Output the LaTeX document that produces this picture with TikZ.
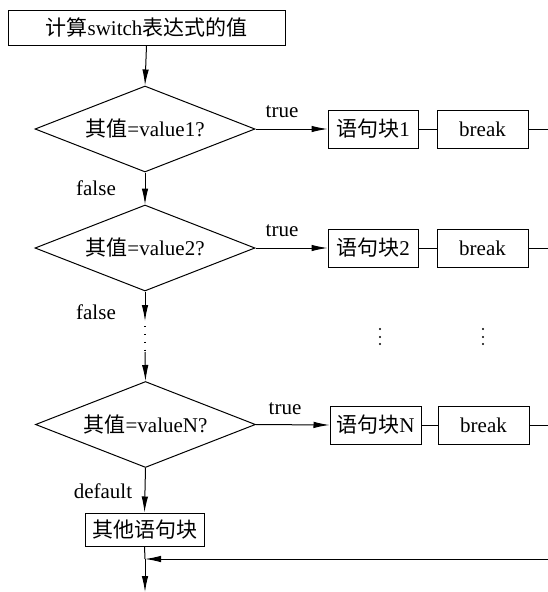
\documentclass[tikz,border=0pt]{standalone}
\usepackage{fontspec}
\setmainfont{Liberation Serif}
\newfontfamily\cjk{Noto Sans CJK SC}
\usetikzlibrary{shapes.geometric,arrows.meta}
\begin{document}
\begin{tikzpicture}[x=1pt,y=-1pt,
  every node/.style={font=\fontsize{21}{24}\selectfont},
  box/.style={draw, line width=1pt, inner sep=0pt, minimum height=38pt},
  dia/.style={draw, line width=1pt, diamond, aspect=2.56, inner sep=0pt, minimum width=220pt, minimum height=86pt},
  lab/.style={inner sep=0pt},
  arr/.style={line width=1pt, -{Latex[length=16pt,width=6.5pt]}},
  ln/.style={line width=1pt}]
\useasboundingbox (0,0) rectangle (547,592);

\node[box, minimum width=277pt, minimum height=35pt] (top) at (146.5,27.5) {{\cjk 计算}switch{\cjk 表达式的值}};

\node[dia] (d1) at (145,129) {{\cjk 其值}=value1?};
\node[dia] (d2) at (145,248) {{\cjk 其值}=value2?};
\node[dia] (dN) at (145.5,424.5) {{\cjk 其值}=valueN?};

\node[box, minimum width=90pt] (b1) at (373,129) {{\cjk 语句块}1};
\node[box, minimum width=91pt] (k1) at (482.5,129) {break};
\node[box, minimum width=90pt] (b2) at (373,248) {{\cjk 语句块}2};
\node[box, minimum width=91pt] (k2) at (482.5,248) {break};
\node[box, minimum width=91pt] (bN) at (375.5,425) {{\cjk 语句块}N};
\node[box, minimum width=91pt] (kN) at (483.5,425) {break};

\node[box, minimum width=119pt, minimum height=33pt] (oth) at (144.5,529.5) {\cjk 其他语句块};

\node[lab] (t1) at (282,112) {true};
\node[lab] (f1) at (96,188) {false};
\node[lab] (t2) at (282,231) {true};
\node[lab] (f2) at (96,312) {false};
\node[lab] (tN) at (285,409) {true};
\node[lab] (df) at (103,491) {default};

\coordinate (r1) at (548.5,129);
\coordinate (r2) at (548.5,248);
\coordinate (rN) at (548.5,425);
\coordinate (rB) at (548.5,559);
\coordinate (jB) at (145,559);
\coordinate (endB) at (145,592);
\coordinate (m1) at (145,321);
\coordinate (m2) at (145,352);

\draw[arr] (top.south) -- (d1.north);
\draw[arr] (d1.south) -- (d2.north);
\draw[arr] (d2.south) -- (m1);
\draw[ln, line width=1.4pt, dash pattern=on 1.4pt off 6.5pt] (145,326) -- (145,352);
\draw[arr] (m2) -- (dN.north);
\draw[arr] (dN.south) -- (oth.north);

\draw[arr] (d1.east) -- (b1.west);
\draw[arr] (d2.east) -- (b2.west);
\draw[arr] (dN.east) -- (bN.west);
\draw[ln] (b1.east) -- (k1.west);
\draw[ln] (b2.east) -- (k2.west);
\draw[ln] (bN.east) -- (kN.west);
\draw[ln] (k1.east) -- (r1);
\draw[ln] (k2.east) -- (r2);
\draw[ln] (kN.east) -- (rN);
\draw[ln] (r1) -- (rB);

\draw[ln] (oth.south) -- (jB);
\draw[arr] (jB) -- (endB);
\draw[arr] (rB) -- (jB);

\foreach \x in {380,483} {
  \foreach \y in {329,337,344} {
    \fill (\x,\y) circle (1.1pt);
  }
}
\end{tikzpicture}
\end{document}
